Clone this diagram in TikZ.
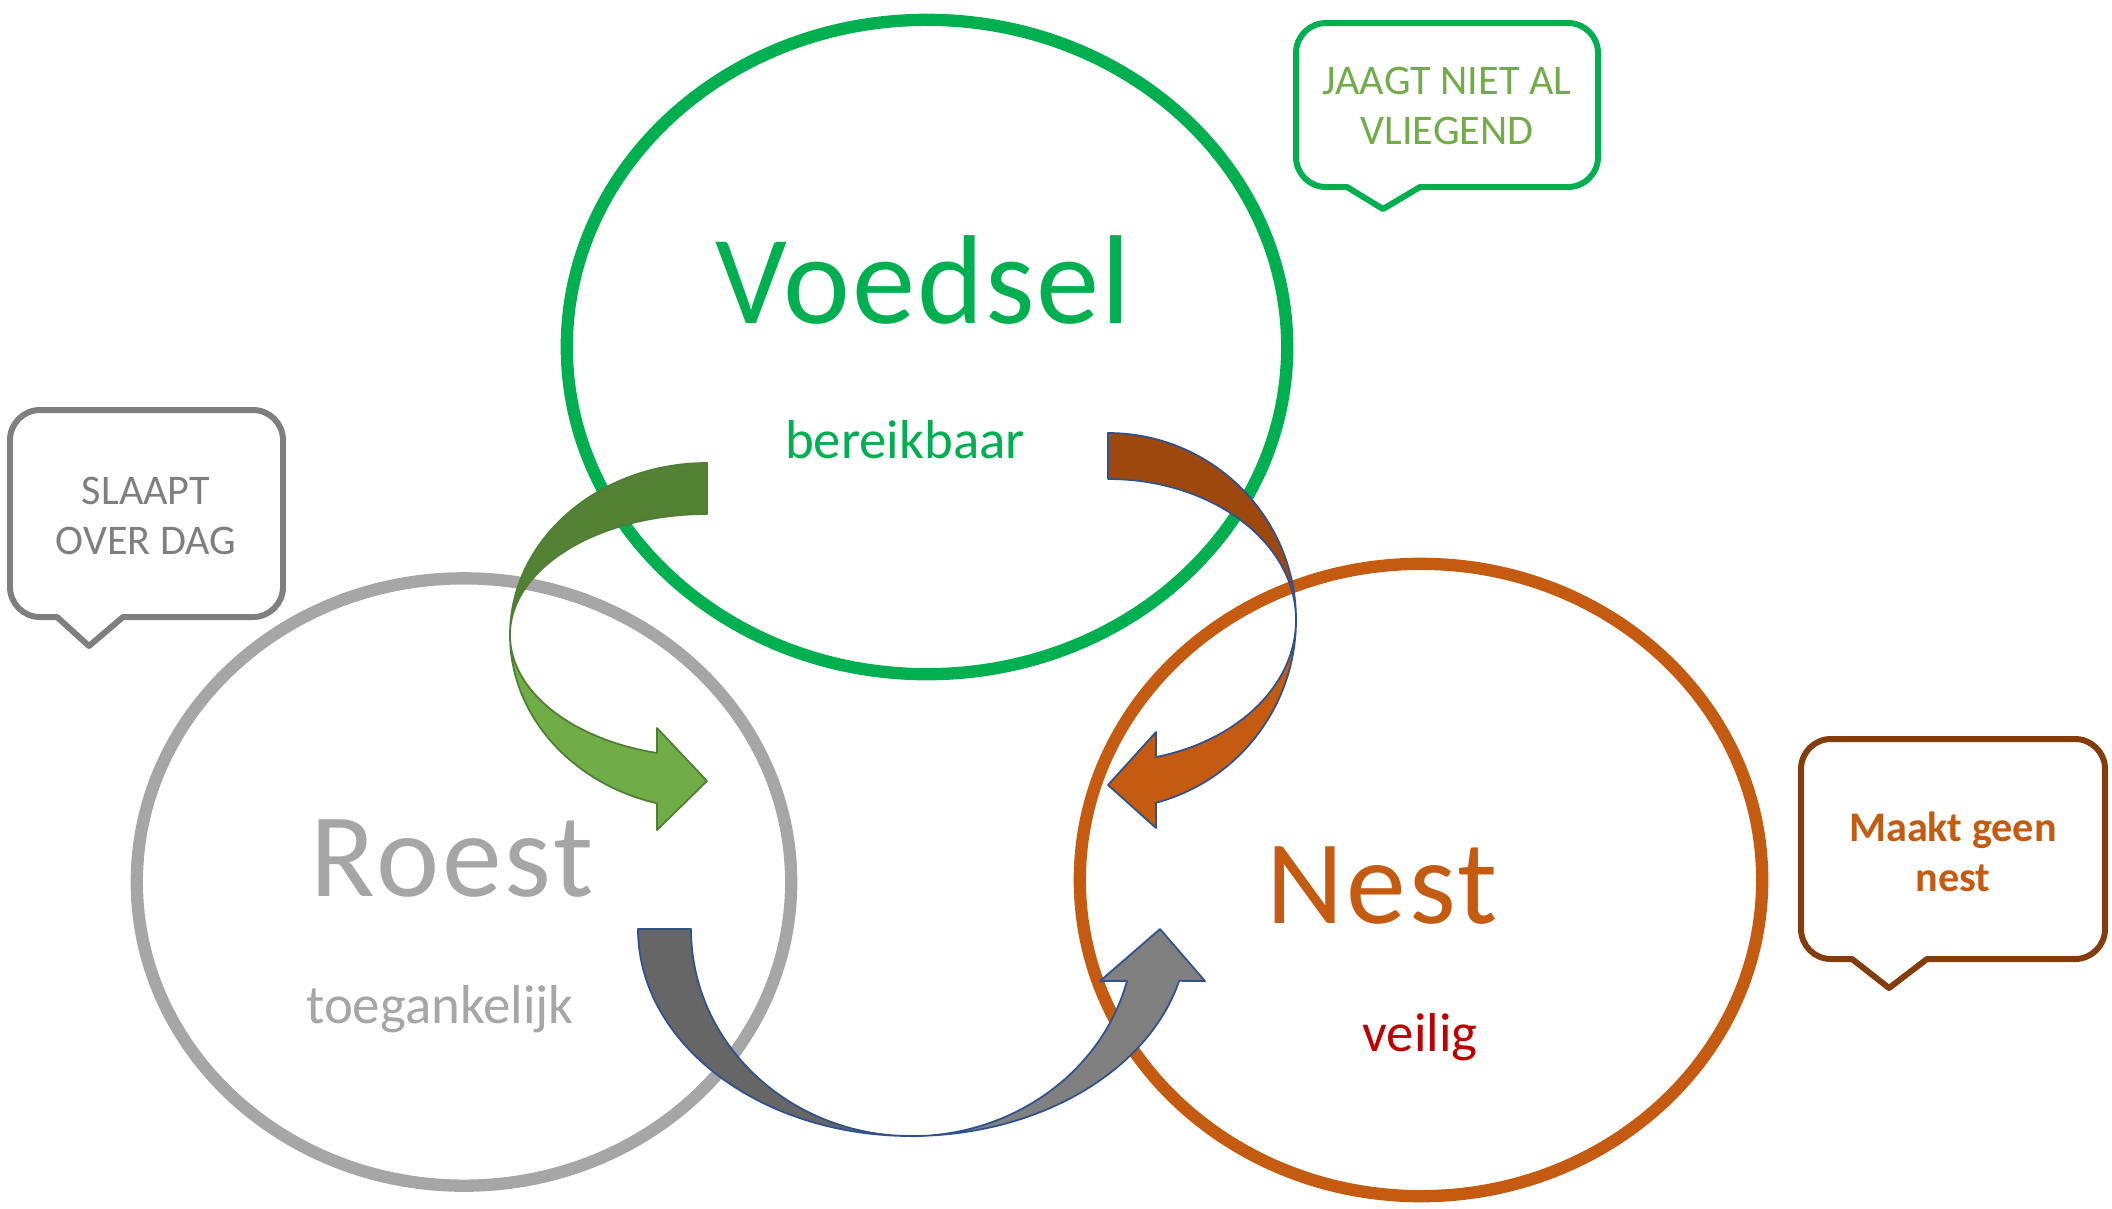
\documentclass[tikz,border=0pt]{standalone}
\usepackage{fontspec}
\setmainfont{Carlito}
\usepackage{tikz}
\usetikzlibrary{shapes.geometric}
\definecolor{vGreen}{HTML}{00B050}
\definecolor{vLeaf}{HTML}{70AD47}
\definecolor{vLeafDark}{HTML}{548235}
\definecolor{vLeafLine}{HTML}{507E32}
\definecolor{rGray}{HTML}{A6A6A6}
\definecolor{rGrayText}{HTML}{7F7F7F}
\definecolor{rShaftDark}{HTML}{666666}
\definecolor{rShaft}{HTML}{808080}
\definecolor{nOrange}{HTML}{C55A11}
\definecolor{nBrown}{HTML}{843C0C}
\definecolor{nRust}{HTML}{9E480E}
\definecolor{nRed}{HTML}{C00000}
\definecolor{arrowLine}{HTML}{2F528F}

\begin{document}
\begin{tikzpicture}[x=0.01cm, y=-0.01cm,
    ring/.style={draw=#1, ellipse, line width=3.5pt, inner sep=0pt},
    bubble/.style={draw=#1, line width=1.7pt, line join=round},
    bubbletext/.style={text=#1, align=center, font=\fontsize{12}{14.2}\selectfont},
    bigword/.style={text=#1, anchor=base, font=\fontsize{34}{40}\selectfont\addfontfeature{LetterSpace=2.5}},
    smallword/.style={text=#1, anchor=base, font=\fontsize{15.6}{18}\selectfont},
    shaft/.style={fill=#1, draw=arrowLine, line width=0.5pt, line join=round}]
  \useasboundingbox (0,0) rectangle (2112,1208);

  % the three circles
  \node[ring=rGray, minimum width=6.54cm, minimum height=6.07cm] (roest) at (464,882) {};
  \node[ring=nOrange, minimum width=6.82cm, minimum height=6.32cm] (nest) at (1421,880) {};
  \node[ring=vGreen, minimum width=7.20cm, minimum height=6.54cm] (voedsel) at (927,347) {};

  \node[bigword=vGreen, font=\fontsize{36}{40}\selectfont\addfontfeature{LetterSpace=1.5}] (voedselText) at (923,323) {Voedsel};
  \node[smallword=vGreen] (bereikbaar) at (905,458) {bereikbaar};
  \node[bigword=rGray] (roestText) at (452,896) {Roest};
  \node[smallword=rGray] (toegankelijk) at (440,1023) {toegankelijk};
  \node[bigword=nOrange] (nestText) at (1382,923) {Nest};
  \node[smallword=nRed] (veilig) at (1420,1051) {veilig};

  % curved arrows
  \filldraw[shaft=vLeafDark, draw=vLeafLine] (707,463) arc[start angle=270, end angle=180, x radius=197, y radius=172]
    arc[start angle=180, end angle=270, x radius=197, y radius=121] -- cycle;
  \filldraw[shaft=vLeaf, draw=vLeafLine] (510,635) arc[start angle=180, end angle=104.7, x radius=197, y radius=174]
    -- (657,830) -- (707,781) -- (657,728) -- (657,753)
    arc[start angle=104.7, end angle=180, x radius=197, y radius=122] -- cycle;

  \filldraw[shaft=nRust] (1108,433) arc[start angle=270, end angle=360, x radius=188, y radius=187]
    arc[start angle=0, end angle=-90, x radius=188, y radius=141] -- cycle;
  \filldraw[shaft=nOrange] (1296,620) arc[start angle=0, end angle=75.2, x radius=188, y radius=189]
    -- (1156,828) -- (1108,785) -- (1156,732) -- (1156,757)
    arc[start angle=75.2, end angle=0, x radius=188, y radius=141.5] -- cycle;

  \filldraw[shaft=rShaftDark] (638,929) arc[start angle=180, end angle=90, x radius=273, y radius=207]
    arc[start angle=90, end angle=180, x radius=220, y radius=207] -- cycle;
  \filldraw[shaft=rShaft] (911,1136) arc[start angle=90, end angle=14.5, x radius=277, y radius=207]
    -- (1205,981) -- (1160,929) -- (1100,981) -- (1127,981)
    arc[start angle=14.5, end angle=90, x radius=223, y radius=207] -- cycle;

  % callouts
  \draw[bubble=vGreen] (1420,187) -- (1568,187) arc[start angle=90, end angle=0, radius=30]
    -- (1598,53) arc[start angle=0, end angle=-90, radius=30]
    -- (1326,23) arc[start angle=270, end angle=180, radius=30]
    -- (1296,157) arc[start angle=180, end angle=90, radius=30]
    -- (1347,187) -- (1383,209) -- cycle;
  \node[bubbletext=vLeaf] (jaagt) at (1447,106) {JAAGT NIET AL\\VLIEGEND};

  \draw[bubble=rGrayText] (123,617) -- (253,617) arc[start angle=90, end angle=0, radius=30]
    -- (283,440) arc[start angle=0, end angle=-90, radius=30]
    -- (40,410) arc[start angle=270, end angle=180, radius=30]
    -- (10,587) arc[start angle=180, end angle=90, radius=30]
    -- (57,617) -- (89,646) -- cycle;
  \node[bubbletext=rGrayText] (slaapt) at (146,516) {SLAAPT\\OVER DAG};

  \draw[bubble=nBrown] (1927,959) -- (2075,959) arc[start angle=90, end angle=0, radius=30]
    -- (2105,769) arc[start angle=0, end angle=-90, radius=30]
    -- (1831,739) arc[start angle=270, end angle=180, radius=30]
    -- (1801,929) arc[start angle=180, end angle=90, radius=30]
    -- (1852,959) -- (1889,988) -- cycle;
  \node[bubbletext=nOrange, font=\fontsize{12}{14.2}\selectfont\bfseries] (maakt) at (1953,852) {Maakt geen\\nest};
\end{tikzpicture}
\end{document}
